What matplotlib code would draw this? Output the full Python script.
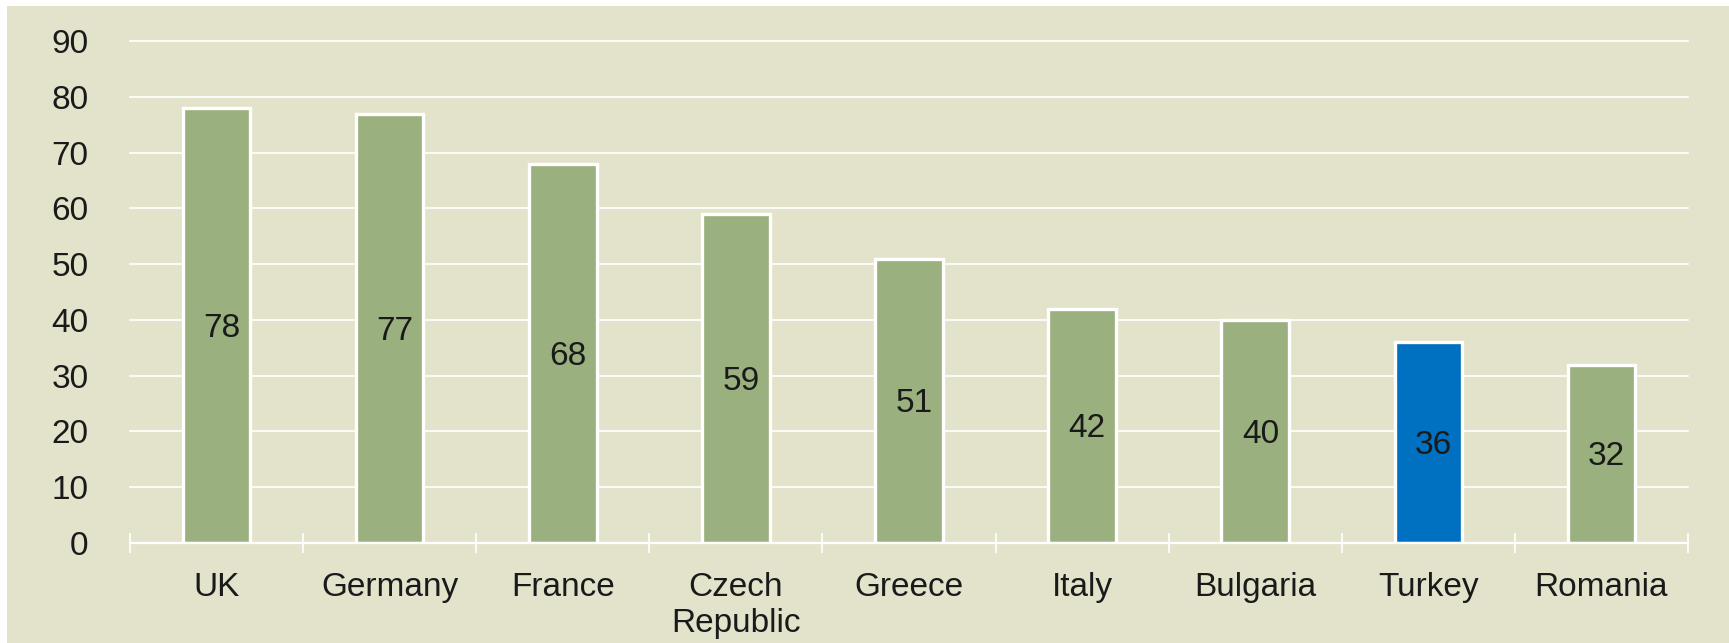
import matplotlib
matplotlib.use("Agg")
import matplotlib.pyplot as plt
from matplotlib.patches import Rectangle

categories = ["UK", "Germany", "France", "Czech\nRepublic", "Greece", "Italy", "Bulgaria", "Turkey", "Romania"]
values = [78, 77, 68, 59, 51, 42, 40, 36, 32]
highlight = "Turkey"
yticks = [0, 10, 20, 30, 40, 50, 60, 70, 80, 90]

BG = "#E3E3CB"
GREEN = "#9AB07E"
BLUE = "#0070C0"
TXT = "#1a1a1a"
FS = 24

plt.rcParams['font.family'] = ['Liberation Sans', 'DejaVu Sans']

W, H = 1729, 643
fig = plt.figure(figsize=(W / 100, H / 100), dpi=100, facecolor="white")
fig.patches.append(Rectangle((7 / W, 0), 1 - 7 / W, 1 - 6 / H, transform=fig.transFigure,
                             facecolor=BG, edgecolor="none", zorder=-10))

ax = fig.add_axes([130 / W, 1 - 543 / H, (1688 - 130) / W, (543 - 41) / H])
ax.set_facecolor(BG)
for s in ax.spines.values():
    s.set_visible(False)

x = list(range(len(categories)))
colors = [BLUE if c == highlight else GREEN for c in categories]
ax.bar(x, values, width=0.39, color=colors, edgecolor="white", linewidth=2.4, zorder=3)

for xi, v in zip(x, values):
    ax.text(xi + 0.03, v / 2 - 0.5, str(v), ha="center", va="center", fontsize=FS, color=TXT, zorder=4)

ax.set_xlim(-0.5, len(categories) - 0.5)
ax.set_ylim(0, 90)
ax.set_yticks(yticks)
ax.set_yticklabels([str(t) for t in yticks], fontsize=FS, color=TXT)
ax.tick_params(axis="y", length=0, pad=30)
for t in yticks[1:]:
    ax.axhline(t, color="white", linewidth=1.2, zorder=1, clip_on=False)
ax.axhline(0, color="white", linewidth=1.6, zorder=5, clip_on=False)

ax.set_xticks(x)
ax.set_xticklabels(categories, fontsize=FS, color=TXT, linespacing=1.2)
ax.tick_params(axis="x", which="major", length=0, pad=21)
ax.set_xticks([i - 0.5 for i in range(len(categories) + 1)], minor=True)
ax.tick_params(axis="x", which="minor", direction="inout", length=15, width=1.2, color="white")
for t in ax.xaxis.get_minor_ticks():
    t.tick1line.set_clip_on(False)

fig.savefig("out.png", dpi=100, facecolor="white")
